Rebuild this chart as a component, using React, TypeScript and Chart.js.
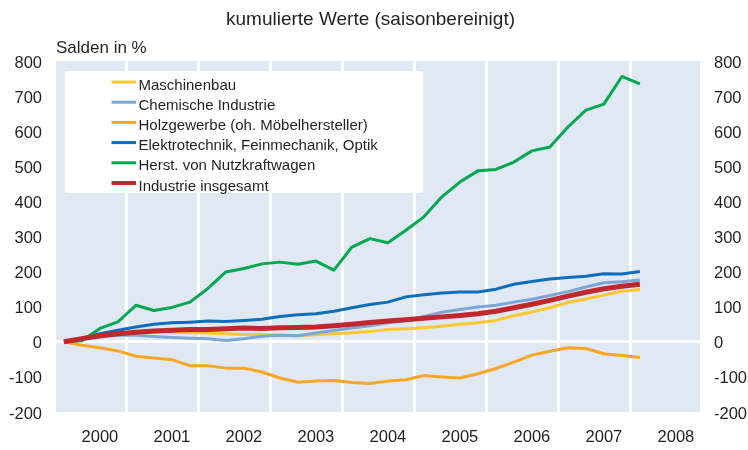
import React, { useEffect, useRef } from 'react';
import { Chart, registerables } from 'chart.js';

Chart.register(...registerables);

const chartTitle = 'kumulierte Werte (saisonbereinigt)';
const unitLabel = 'Salden in %';

const quarters = [
  '2000 Q1', '2000 Q2', '2000 Q3', '2000 Q4',
  '2001 Q1', '2001 Q2', '2001 Q3', '2001 Q4',
  '2002 Q1', '2002 Q2', '2002 Q3', '2002 Q4',
  '2003 Q1', '2003 Q2', '2003 Q3', '2003 Q4',
  '2004 Q1', '2004 Q2', '2004 Q3', '2004 Q4',
  '2005 Q1', '2005 Q2', '2005 Q3', '2005 Q4',
  '2006 Q1', '2006 Q2', '2006 Q3', '2006 Q4',
  '2007 Q1', '2007 Q2', '2007 Q3', '2007 Q4',
  '2008 Q1',
];

const yearLabels = [2000, 2001, 2002, 2003, 2004, 2005, 2006, 2007, 2008];
const yTicks = [-200, -100, 0, 100, 200, 300, 400, 500, 600, 700, 800];

const maschinenbau = [0, 9, 15, 20, 24, 27, 27, 26, 25, 23, 21, 21, 19, 17, 20, 23, 26, 29, 35, 37, 40, 44, 50, 54, 61, 74, 85, 97, 112, 122, 133, 144, 149];
const chemie = [0, 7, 14, 19, 19, 15, 12, 10, 9, 4, 9, 16, 19, 17, 25, 32, 39, 46, 54, 61, 72, 84, 92, 99, 104, 113, 121, 132, 143, 156, 168, 171, 176];
const holz = [0, -10, -17, -26, -41, -46, -51, -68, -68, -75, -75, -86, -103, -115, -112, -110, -116, -119, -112, -108, -96, -100, -103, -91, -76, -58, -38, -27, -17, -19, -34, -39, -45];
const elektro = [0, 10, 23, 33, 42, 50, 54, 56, 59, 58, 61, 64, 72, 77, 80, 87, 97, 106, 113, 128, 134, 139, 142, 142, 150, 164, 172, 179, 183, 187, 194, 193, 200];
const nutzkraft = [0, 3, 38, 57, 104, 89, 98, 113, 152, 199, 209, 222, 227, 221, 230, 204, 270, 294, 282, 318, 356, 413, 455, 487, 491, 512, 544, 555, 612, 660, 677, 756, 735];
const industrie = [0, 9, 17, 23, 27, 31, 33, 35, 35, 37, 39, 38, 40, 41, 42, 46, 50, 55, 59, 63, 67, 71, 75, 80, 87, 97, 107, 118, 130, 141, 151, 158, 164];

const seriesNames = [
  'Maschinenbau',
  'Chemische Industrie',
  'Holzgewerbe (oh. Möbelhersteller)',
  'Elektrotechnik, Feinmechanik, Optik',
  'Herst. von Nutzkraftwagen',
  'Industrie insgesamt',
];
const seriesValues = [maschinenbau, chemie, holz, elektro, nutzkraft, industrie];
const seriesColors = ['#fdc82f', '#7ba7d7', '#f8a623', '#0a6ebd', '#00a84f', '#c1272d'];
const seriesWidths = [3, 3, 3, 3, 3, 5];
const seriesOrder = [4, 3, 5, 2, 1, 0];

const FONT = '"Liberation Sans", Arial, Helvetica, sans-serif';
const TEXT = '#231f20';
const BG = '#e0e8f3';

const X_MIN = 1999.89;
const X_MAX = 2008.835;
const GRID_OFFSET = 0.875;

function quarterToX(q: string): number {
  const [y, qq] = q.split(' Q');
  return Number(y) + (Number(qq) - 1) / 4;
}

export default function App() {
  const ref = useRef<HTMLCanvasElement>(null);

  useEffect(() => {
    if (!ref.current) return;

    const gridValues = yearLabels.map((y) => y + GRID_OFFSET).filter((v) => v < X_MAX - 0.01);
    const labelValues = yearLabels.map((y) => y + 0.5);
    const isGrid = (v: number) => gridValues.some((g) => Math.abs(g - v) < 1e-6);

    const deco = {
      id: 'deco',
      beforeDraw(chart: any) {
        const { ctx, chartArea: a } = chart;
        ctx.save();
        ctx.fillStyle = BG;
        ctx.fillRect(a.left, a.top, a.right - a.left, a.bottom - a.top);
        ctx.fillStyle = TEXT;
        ctx.textBaseline = 'alphabetic';
        ctx.textAlign = 'center';
        ctx.font = `19px ${FONT}`;
        ctx.fillText(chartTitle, 370.5, 24.5);
        ctx.textAlign = 'left';
        ctx.font = `17px ${FONT}`;
        ctx.fillText(unitLabel, a.left, 52.5);
        ctx.restore();
      },
      beforeDatasetsDraw(chart: any) {
        const { ctx, chartArea: a } = chart;
        ctx.save();
        const bx = a.left + 9;
        const by = a.top + 10;
        ctx.fillStyle = '#ffffff';
        ctx.fillRect(bx, by, 358, 122);
        ctx.font = `15px ${FONT}`;
        ctx.textAlign = 'left';
        ctx.textBaseline = 'alphabetic';
        seriesNames.forEach((name, i) => {
          const ly = by + 11 + i * 20.2;
          ctx.strokeStyle = seriesColors[i];
          ctx.lineWidth = i === 5 ? 4 : 3;
          ctx.beginPath();
          ctx.moveTo(bx + 46.5, ly);
          ctx.lineTo(bx + 71, ly);
          ctx.stroke();
          ctx.fillStyle = TEXT;
          ctx.fillText(name, bx + 73.5, ly + 7.5);
        });
        ctx.restore();
      },
    };

    const xs = quarters.map(quarterToX);

    const chart = new Chart(ref.current, {
      type: 'line',
      data: {
        datasets: seriesNames.map((name, i) => ({
          label: name,
          data: seriesValues[i].map((v, k) => ({ x: xs[k], y: v })),
          borderColor: seriesColors[i],
          backgroundColor: seriesColors[i],
          borderWidth: seriesWidths[i],
          pointRadius: 0,
          tension: 0,
          fill: false,
          order: seriesOrder[i],
          borderJoinStyle: 'round' as const,
        })),
      },
      options: {
        responsive: false,
        animation: false,
        events: [],
        layout: { padding: { top: 61, left: 0, right: 0, bottom: 0 } },
        plugins: {
          legend: { display: false },
          tooltip: { enabled: false },
          title: { display: false },
        },
        scales: {
          x: {
            type: 'linear',
            min: X_MIN,
            max: X_MAX,
            afterBuildTicks(scale: any) {
              const vals = [...gridValues, ...labelValues].filter((v) => v >= X_MIN && v <= X_MAX).sort((a, b) => a - b);
              scale.ticks = vals.map((v) => ({ value: v }));
            },
            afterFit(scale: any) {
              scale.height = 38;
            },
            border: { display: false },
            grid: {
              drawTicks: false,
              lineWidth: 3,
              color: (c: any) => (c.tick && isGrid(c.tick.value) ? '#ffffff' : 'rgba(0,0,0,0)'),
            },
            ticks: {
              autoSkip: false,
              maxRotation: 0,
              minRotation: 0,
              padding: 16,
              color: TEXT,
              font: { family: FONT, size: 16.5 },
              callback: (v: any) => (isGrid(Number(v)) ? '' : String(Math.floor(Number(v)))),
            },
          },
          y: {
            position: 'left',
            min: -200,
            max: 800,
            afterBuildTicks(scale: any) {
              scale.ticks = yTicks.map((v) => ({ value: v }));
            },
            afterFit(scale: any) {
              scale.width = 56;
            },
            border: { display: false },
            grid: {
              drawTicks: false,
              lineWidth: 3,
              color: (c: any) => (c.tick && c.tick.value === 0 ? '#ffffff' : 'rgba(0,0,0,0)'),
            },
            ticks: {
              padding: 14,
              labelOffset: 2,
              color: TEXT,
              font: { family: FONT, size: 16.5 },
            },
          },
          y2: {
            position: 'right',
            min: -200,
            max: 800,
            afterBuildTicks(scale: any) {
              scale.ticks = yTicks.map((v) => ({ value: v }));
            },
            afterFit(scale: any) {
              scale.width = 48;
            },
            border: { display: false },
            grid: { display: false, drawTicks: false },
            ticks: {
              padding: 14,
              labelOffset: 2,
              color: TEXT,
              font: { family: FONT, size: 16.5 },
            },
          },
        },
      } as any,
      plugins: [deco],
    });

    return () => chart.destroy();
  }, []);

  return (
    <div style={{ position: 'absolute', left: 0, top: 0, width: 748, height: 450, background: '#fff' }}>
      <canvas ref={ref} width={748} height={450} style={{ display: 'block', width: 748, height: 450 }} />
    </div>
  );
}
